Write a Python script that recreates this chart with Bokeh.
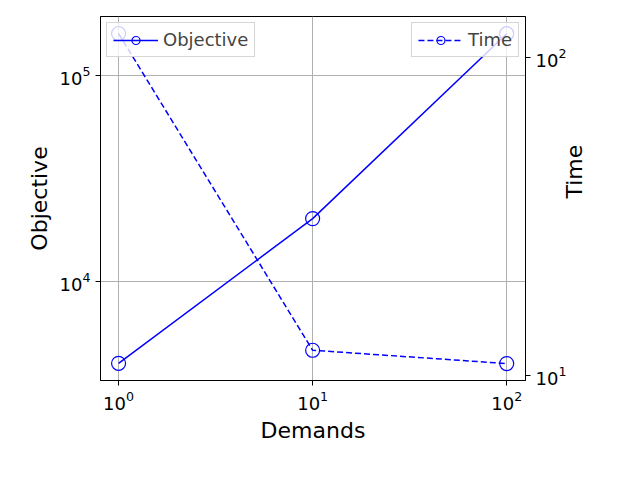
import math

from bokeh.plotting import figure
from bokeh.models import Range1d, LogScale, LogAxis, Legend, LegendItem, FixedTicker, LogTickFormatter
from bokeh.embed import file_html
from bokeh.resources import INLINE

demands = [1, 10, 100]
objective = [4000, 20200, 160000]
time_s = [119, 12.0, 10.9]

x_ticks = [1, 10, 100]
obj_ticks = [1e4, 1e5]
time_ticks = [10, 100]

FONT = "DejaVu Sans"

p = figure(
    x_axis_type="log", y_axis_type="log",
    width=624, height=464,
    min_border_left=100, min_border_right=99, min_border_top=16, min_border_bottom=84,
    x_range=Range1d(0.807, 125), y_range=Range1d(3300, 194000),
    output_backend="svg", toolbar_location=None,
)
p.extra_y_ranges = {"time": Range1d(9.64, 134.6)}
p.extra_y_scales = {"time": LogScale()}
p.outline_line_color = "black"

l1 = p.line(demands, objective, line_color="blue", line_width=1.5)
c1 = p.scatter(demands, objective, size=14, fill_color=None, line_color="blue", line_width=1.2)
l2 = p.line(demands, time_s, line_color="blue", line_width=1.5, line_dash="6 3", y_range_name="time")
c2 = p.scatter(demands, time_s, size=14, fill_color=None, line_color="blue", line_width=1.2, y_range_name="time")

right = LogAxis(y_range_name="time", axis_label="Time")
p.add_layout(right, "right")
right.axis_label_orientation = math.pi / 2

p.xaxis[0].ticker = FixedTicker(ticks=x_ticks, minor_ticks=[])
p.yaxis[0].ticker = FixedTicker(ticks=obj_ticks, minor_ticks=[])
right.ticker = FixedTicker(ticks=time_ticks, minor_ticks=[])

for ax in [p.xaxis[0], p.yaxis[0], right]:
    ax.formatter = LogTickFormatter()
    ax.axis_label_text_font = FONT
    ax.axis_label_text_font_size = "22px"
    ax.axis_label_text_font_style = "normal"
    ax.major_label_text_font = FONT
    ax.major_label_text_font_size = "18px"
    ax.major_label_text_color = "black"
    ax.axis_label_text_color = "black"
    ax.major_tick_out = 5
    ax.major_tick_in = 0
p.xaxis.axis_label = "Demands"
p.yaxis[0].axis_label = "Objective"

p.xgrid.grid_line_color = "#b0b0b0"
p.ygrid.grid_line_color = "#b0b0b0"

for items, loc in [([LegendItem(label="Objective", renderers=[l1, c1])], "top_left"),
                   ([LegendItem(label="Time", renderers=[l2, c2])], "top_right")]:
    lg = Legend(items=items, location=loc)
    lg.label_text_font = FONT
    lg.label_text_font_size = "18px"
    lg.border_line_color = "#cccccc"
    lg.border_line_alpha = 0.8
    lg.background_fill_alpha = 0.8
    lg.glyph_width = 45
    lg.margin = 6
    lg.padding = 6
    p.add_layout(lg, "center")

open("out.html", "w").write(file_html(p, INLINE))
